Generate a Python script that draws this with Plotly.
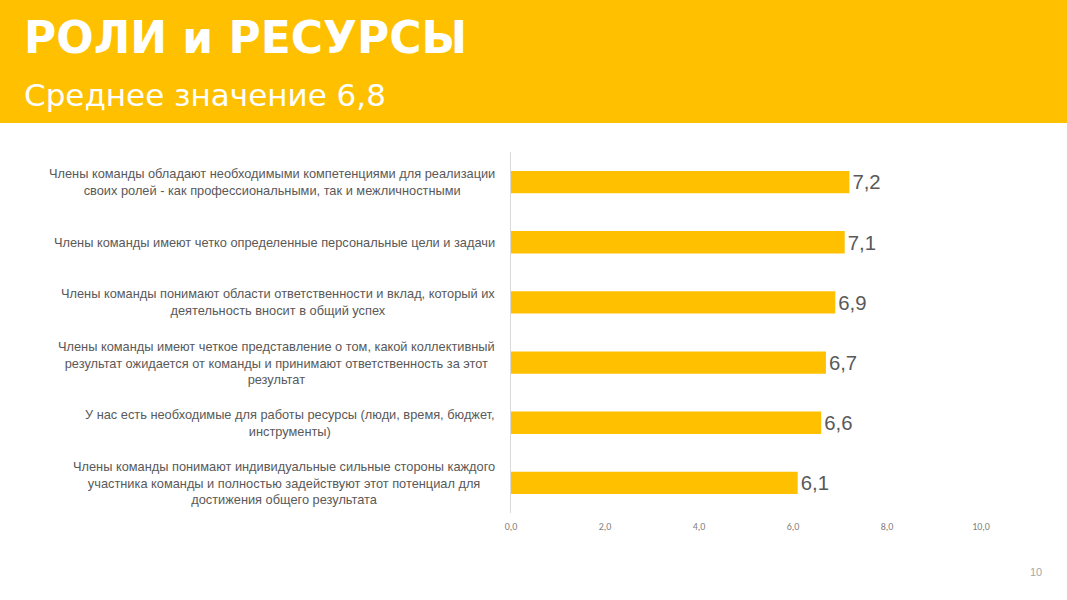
import plotly.graph_objects as go

W, H = 1067, 600
L, R, T, B = 511, 86, 152, 87

categories = [
    "Члены команды обладают необходимыми компетенциями для реализации<br>своих ролей - как профессиональными, так и межличностными",
    "Члены команды имеют четко определенные персональные цели и задачи",
    "Члены команды понимают области ответственности и вклад, который их<br>деятельность вносит в общий успех",
    "Члены команды имеют четкое представление о том, какой коллективный<br>результат ожидается от команды и принимают ответственность за этот<br>результат",
    "У нас есть необходимые для работы ресурсы (люди, время, бюджет,<br>инструменты)",
    "Члены команды понимают индивидуальные сильные стороны каждого<br>участника команды и полностью задействуют этот потенциал для<br>достижения общего результата",
]
values = [7.2, 7.1, 6.9, 6.7, 6.6, 6.1]
x_ticks = [0, 2, 4, 6, 8, 10]
title = "РОЛИ и РЕСУРСЫ"
subtitle = "Среднее значение 6,8"
page_no = "10"

PW = W - L - R
PH = H - T - B

def px(x):
    return (x - L) / PW

def py(y):
    return (H - B - y) / PH

YELLOW = "#FFC000"
LABEL_FONT = "Liberation Sans Narrow, Arial Narrow, Liberation Sans, Arial, sans-serif"

fig = go.Figure()
fig.add_trace(go.Bar(
    y=list(range(len(categories))),
    x=values,
    orientation="h",
    marker=dict(color=YELLOW, line=dict(width=0)),
    text=values,
    texttemplate="%{x:.1f}",
    textposition="outside",
    textfont=dict(family=LABEL_FONT, size=21, color="#595959"),
    cliponaxis=False,
    width=0.37,
    hoverinfo="skip",
))

annotations = []
for i, c in enumerate(categories):
    annotations.append(dict(
        x=px(497), xref="paper", y=i, yref="y",
        text=c, showarrow=False, xanchor="right", yanchor="middle",
        align="center",
        font=dict(family=LABEL_FONT, size=12.8, color="#595959"),
    ))

annotations += [
    dict(x=px(22), xref="paper", y=py(38), yref="paper", text="<b>" + title + "</b>",
         showarrow=False, xanchor="left", yanchor="middle",
         font=dict(family="DejaVu Sans, Verdana, sans-serif", size=44, color="white")),
    dict(x=px(22), xref="paper", y=py(95), yref="paper", text=subtitle,
         showarrow=False, xanchor="left", yanchor="middle",
         font=dict(family="DejaVu Sans, Verdana, sans-serif", size=31, color="white")),
    dict(x=px(1036), xref="paper", y=py(572), yref="paper", text=page_no,
         showarrow=False, xanchor="center", yanchor="middle",
         font=dict(family="Liberation Sans, Arial, sans-serif", size=11, color="#a6a6a6")),
]

fig.update_layout(
    width=W, height=H,
    margin=dict(l=L, r=R, t=T, b=B, pad=0),
    paper_bgcolor="white", plot_bgcolor="white",
    separators=", ",
    showlegend=False,
    shapes=[dict(type="rect", xref="paper", yref="paper",
                 x0=px(0), x1=px(W), y0=py(123), y1=py(0),
                 fillcolor=YELLOW, line=dict(width=0), layer="below")],
    annotations=annotations,
    xaxis=dict(range=[0, 10], tickvals=x_ticks, tickformat=".1f",
               showgrid=False, zeroline=False, showline=False, ticks="",
               ticklabelstandoff=6,
               tickfont=dict(family="Carlito, Liberation Sans, Arial, sans-serif", size=10, color="#7f7f7f")),
    yaxis=dict(range=[len(categories) - 0.5, -0.5], showticklabels=False,
               showgrid=False, zeroline=False, showline=True,
               linecolor="#d9d9d9", linewidth=1, ticks=""),
)

fig.write_html("out.html")
